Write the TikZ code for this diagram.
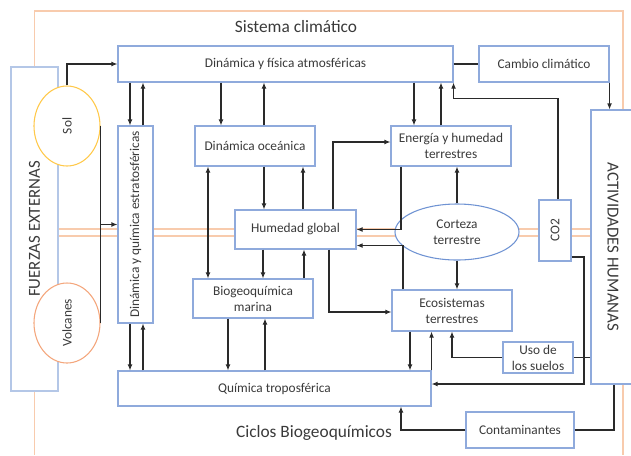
\documentclass[tikz,border=0pt]{standalone}
\usepackage{fontspec}
\usepackage{graphicx}
\setmainfont{Carlito}
\usetikzlibrary{arrows.meta,shapes.geometric}
\newlength\px \setlength\px{0.75pt}
\definecolor{boxblue}{HTML}{8FAADC}
\definecolor{paleblue}{HTML}{B4C7E7}
\definecolor{framesalmon}{HTML}{F8CBAD}
\definecolor{solyellow}{HTML}{FFC94A}
\definecolor{volcorange}{HTML}{F4A67C}
\definecolor{crustblue}{HTML}{6F93D3}
\definecolor{txtgray}{HTML}{3A3A3A}
\definecolor{wiregray}{HTML}{2A2A2A}
\begin{document}
\begin{tikzpicture}[x=0.75pt,y=-0.75pt,
  every node/.style={text=txtgray},
  box/.style={draw=boxblue, line width=0.8pt, fill=white, inner sep=1pt,
    font=\fontsize{10}{12}\selectfont, align=center},
  bigbox/.style={box, draw=paleblue, font=\fontsize{12.6}{14}\selectfont},
  oval/.style={ellipse, draw, line width=0.8pt, fill=white, inner sep=0pt,
    font=\fontsize{10}{12}\selectfont, align=center},
  arr/.style={draw=wiregray, line width=0.8pt, -{Latex[length=4.5pt,width=3.6pt]}},
  dblarr/.style={draw=wiregray, line width=0.8pt, {Latex[length=4.5pt,width=3.6pt]}-{Latex[length=4.5pt,width=3.6pt]}},
  wire/.style={draw=wiregray, line width=0.8pt},
  frame/.style={draw=framesalmon, line width=0.9pt},
  title/.style={font=\fontsize{13}{15}\selectfont, inner sep=0pt}]
\useasboundingbox (0,0) rectangle (631,455);
\clip (0,0) rectangle (631,455);

% climate-system frame and the double band behind the boxes
\coordinate (bandL) at (58,229);
\coordinate (bandR) at (591,229);
\draw[frame] (bandL) -- (bandR);
\draw[frame] ([yshift=-7\px]bandL) -- ([yshift=-7\px]bandR);

% boxes
\node[bigbox, minimum width=47\px, minimum height=324\px] (fuerzas) at (34.5,229) {\rotatebox{90}{FUERZAS EXTERNAS}};
\node[bigbox, draw=boxblue, minimum width=44\px, minimum height=274\px] (activ) at (613,247) {\rotatebox{-90}{ACTIVIDADES HUMANAS}};
\node[box, minimum width=335\px, minimum height=36\px] (atmos) at (285.5,64) {Dinámica y física atmosféricas};
\node[box, minimum width=130\px, minimum height=36\px] (cambio) at (544,64) {Cambio climático};
\node[box, minimum width=35\px, minimum height=197\px] (strato) at (135.5,224.5) {\rotatebox{90}{Dinámica y química estratosféricas}};
\node[box, minimum width=120\px, minimum height=40\px] (oceanica) at (255,146) {Dinámica oceánica};
\node[box, minimum width=121\px, minimum height=39\px] (humedad) at (295.5,229.5) {Humedad global};
\node[box, minimum width=120\px, minimum height=39\px] (biogeo) at (253,298.5) {Biogeoquímica\\marina};
\node[box, minimum width=313\px, minimum height=35\px] (tropo) at (274.5,388.5) {Química troposférica};
\node[box, minimum width=120\px, minimum height=40\px] (energia) at (451,146) {Energía y humedad\\terrestres};
\node[box, minimum width=120\px, minimum height=41\px] (ecosist) at (452,310.5) {Ecosistemas\\terrestres};
\node[oval, draw=crustblue, minimum width=124\px, minimum height=56\px] (corteza) at (457,232) {Corteza\\terrestre};
\node[box, minimum width=32\px, minimum height=61\px] (co2) at (555,230.5) {\rotatebox{90}{CO2}};
\node[box, minimum width=70\px, minimum height=31\px] (uso) at (538,357.5) {Uso de\\los suelos};
\node[box, minimum width=108\px, minimum height=36\px] (contam) at (520,430) {Contaminantes};
\node[oval, draw=solyellow, minimum width=66\px, minimum height=80\px] (sol) at (67,126) {\rotatebox{90}{Sol}};
\node[oval, draw=volcorange, minimum width=66\px, minimum height=80\px] (volc) at (67,323) {\rotatebox{90}{Volcanes}};

% frame outline
\draw[frame] (fuerzas.north) -- (fuerzas.north |- 0,11) -- (623,11) -- (623,0 |- activ.north);
\draw[frame] (fuerzas.south) -- (fuerzas.south |- 0,455);
\draw[frame] (623,0 |- activ.south) -- (623,455);

\node[title] (sistema) at (296,27) {Sistema climático};
\node[title] (ciclos) at (314,433) {Ciclos Biogeoquímicos};

% external forcings
\draw[arr] (sol.north) |- (atmos.west);
\draw[wire] (sol.east) -- (volc.east);
\draw[arr] (sol.east |- strato.west) -- (strato.west);

% atmosphere and stratosphere
\draw[arr] (130,0 |- atmos.south) -- (130,0 |- strato.north);
\draw[arr] (143,0 |- strato.north) -- (143,0 |- atmos.south);
\draw[arr] (130,0 |- strato.south) -- (130,0 |- tropo.north);
\draw[arr] (143,0 |- tropo.north) -- (143,0 |- strato.south);

% ocean column
\draw[arr] (221,0 |- atmos.south) -- (221,0 |- oceanica.north);
\draw[arr] (264,0 |- oceanica.north) -- (264,0 |- atmos.south);
\draw[arr] (264,0 |- oceanica.south) -- (264,0 |- humedad.north);
\draw[arr] (303,0 |- humedad.north) -- (303,0 |- oceanica.south);
\draw[dblarr] (208,0 |- oceanica.south) -- (208,0 |- biogeo.north);
\draw[arr] (263,0 |- humedad.south) -- (263,0 |- biogeo.north);
\draw[arr] (304,0 |- biogeo.north) -- (304,0 |- humedad.south);
\draw[arr] (228,0 |- biogeo.south) -- (228,0 |- tropo.north);
\draw[arr] (265,0 |- tropo.north) -- (265,0 |- biogeo.south);

% land column
\draw[arr] (329,0 |- humedad.south) |- ([yshift=-1.5\px]ecosist.west);
\draw[arr] (333,0 |- humedad.north) |- ([yshift=4\px]energia.west);
\draw[arr] (414,0 |- atmos.south) -- (414,0 |- energia.north);
\draw[arr] (441,0 |- energia.north) -- (441,0 |- atmos.south);
\draw[arr] (401,0 |- energia.south) |- (humedad.east);
\draw[arr] (403,0 |- ecosist.north) |- ([yshift=4\px]humedad.south east);
\draw[arr] (corteza.north) -- (corteza.north |- energia.south);
\draw[arr] (corteza.south) -- (corteza.south |- ecosist.north);
\draw[arr] (410,0 |- ecosist.south) -- (410,0 |- tropo.north);
\draw[arr] (tropo.north east) -- (tropo.north east |- ecosist.south);
\draw[arr] (uso.west) -| (ecosist.south);

% human activities
\draw[wire] (atmos.east) -- (cambio.west);
\draw[arr] (cambio.south east) -- (cambio.south east |- activ.north);
\draw[arr] ([xshift=3\px]co2.north) |- ([yshift=-16\px]atmos.south east) -- (atmos.south east);
\coordinate (co2bend) at (584,384);
\draw[arr] ([yshift=-26.5\px]co2.east) -| (co2bend) -- (co2bend -| tropo.east);
\draw[wire] (activ.west |- uso.east) -- (uso.east);
\draw[arr] (contam.west) -| (401,0 |- tropo.south);
\draw[wire] (contam.east) -| (614,0 |- activ.south);
\end{tikzpicture}
\end{document}
